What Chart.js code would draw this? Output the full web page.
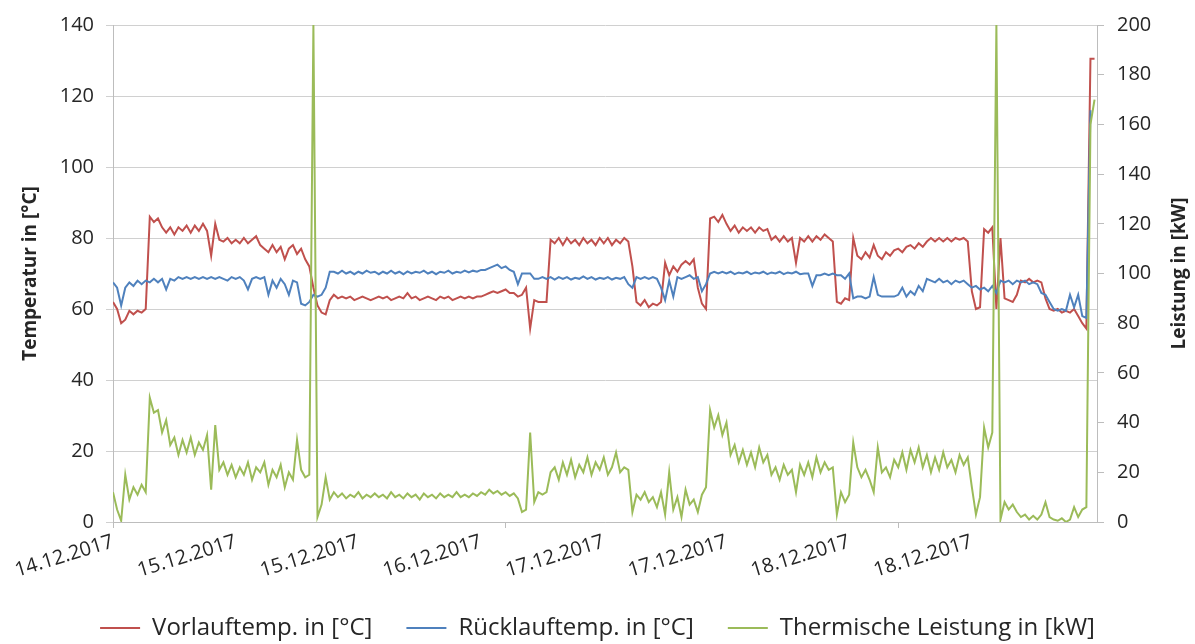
<!DOCTYPE html>
<html><head><meta charset="utf-8">
<script src="https://cdn.jsdelivr.net/npm/chart.js@4.4.0/dist/chart.umd.min.js"></script>
<style>html,body{margin:0;padding:0;background:#fff}#wrap{width:1195px;height:644px;position:relative}</style>
</head><body><div id="wrap"><canvas id="c"></canvas></div>
<script>
// x positions are half-hour steps from the start of the record
const dateLabels = ['14.12.2017','15.12.2017','15.12.2017','16.12.2017','17.12.2017','17.12.2017','18.12.2017','18.12.2017'];
const labelPositions = [0,30,60,90,120,150,180,210];
const tickMarkPositions = [0,96,192];
const xMax = 240.6;

const seriesNames = ['Vorlauftemp. in [°C]','Rücklauftemp. in [°C]','Thermische Leistung in [kW]'];
const leftAxisTitle = 'Temperatur in [°C]';
const rightAxisTitle = 'Leistung in [kW]';

// Vorlauftemperatur [°C]
const vorlauf = [
 62,60,56,57,59.5,58.5,59.5,59,60,86,
 84.5,85.5,83,81.5,83,81,83,82,83.5,81.5,
 83.5,82,84,82,75,84,79.5,79,80,78.5,
 79.5,78.5,80,78.5,79.5,80.5,78,77,76,78,
 76,77.5,74,77,78,75.5,77,74,72,66,
 61,59,58.5,62.5,64,63,63.5,63,63.5,62.5,
 63,63.5,63,62.5,63,63.5,63,63.5,62.5,63,
 63.5,63,64.5,63,63.5,62.5,63,63.5,63,62.5,
 63.5,63,63.5,62.5,63,63.5,63,63.5,63,63.5,
 63.5,64,64.5,65,64.5,65,65.5,64.5,64.5,63.5,
 64,66,54.5,62.5,62,62,62,79.5,78.5,80,
 78,80,78.5,79.5,78,80,78.5,79.5,78,80,
 78.5,80,78,79.5,78.5,80,79,72,62,61,
 62.5,60.5,61.5,61,62,73,69.5,72,70.5,72.5,
 73.5,72.5,74,66,61.5,60,85.5,86,84.5,86.5,
 84,82,83.5,81.5,83,82,83,81.5,83,82,
 82.5,79.5,80.5,79,80.5,79,80,73,80,79,
 80.5,79,80.5,79.5,81,80,79,62,61.5,63,
 62.5,80,75,74,76,74.5,78,75,74,76,
 75,76.5,77,76,77.5,78,77,78.5,77.5,79,
 80,79,80,79,80,79,80,79.5,80,79,
 65,60,60.5,82.5,81.5,83,60,80,63,62.5,
 62,64,68,67.5,68.5,67.5,68,67.5,63,60,
 59.5,60,59,59.5,59,60,58,56,54.5,130.5,
 130.5
];

// Rücklauftemperatur [°C]
const ruecklauf = [
 67.5,66,61,66,67.5,66.5,68,67,68,67.5,
 68.5,67.5,68.5,65.5,68.5,68,69,68.5,69,68.5,
 69,68.5,69,68.5,69,68.5,69,68.5,68,69,
 68.5,69,68,65.5,68.5,69,68.5,69,64,68,
 66,68.5,67,64,68,67.5,61.5,61,62,64,
 63.5,64,66,70.5,70.5,70,70.8,70,70.5,69.8,
 70.5,70,70.8,70.2,70.5,69.8,70.5,70,70.8,70,
 70.5,69.8,70.6,70,70.5,70.2,70.8,70,70.5,69.8,
 70.5,70.2,70.8,70,70.5,70.2,70.8,70.3,70.8,70.5,
 71,71,71.5,72,72.5,71.5,72,71,70.5,67,
 70,70,70,68.5,68.5,69,68.5,69,68.3,69,
 68.5,69,68.3,68.8,68.5,69.2,68.5,69,68.3,68.8,
 68.5,69,68.3,68.8,68.5,69,67,66,69,68.5,
 69,68.5,69,68.5,66,62.5,68,63.5,69,68.5,
 69,69.5,68.5,69,65,67,70,70.5,70,70.5,
 70,70.5,69.8,70.3,70,70.5,69.8,70.3,70,70.5,
 69.8,70.3,70,70.5,69.8,70.3,70,70.5,69.8,70,
 70,66.5,69.5,69.5,70,69.5,70,69.5,69.5,68.5,
 70,63,63.5,63.5,63,63.5,69,64,63.5,63.5,
 63.5,63.5,64,66,63.5,65,64,66.5,65,68.5,
 68,67.5,68.5,67.5,68,67,68,67.5,68,67,
 66,66.5,65.5,66,65,66.5,64.5,68,67.5,68,
 67,68,67.5,68,67,67.5,67,64.5,64,62,
 60,59.5,60,59.5,64,60.5,64,58,57.5,116,
 null
];

// Thermische Leistung [kW]
const leistung = [
 12,5,0.5,19,9,14,11,15,12,50,
 44,45,36,41,31,34,27,33,28,34,
 27,32,29,35,13,39,21,24,19,23,
 18,22,19,24,17,22,20,24,15,21,
 18,23,14,20,17,33,21,18,19,200,
 2,7,18,9,12,10,11.5,9.5,11,10,
 12,9.5,11,10,11.5,10,11,9.5,12,10,
 11,9.5,11.5,10,11,9,11.5,10,11,9.5,
 11.5,10,11,10,12,10,11,10,11.5,10.5,
 12,11,13,11.5,12.5,11,12,10.5,11.5,9.5,
 4,5,36,8,12,11,12,20,22,17,
 24,19,25,18,23,20,26,19,24,21,
 26,19,22,28,20,22,21,4,11,9,
 12,8,10,6,12,3,20,5,10,2,
 13,7,9,4,11,14,45,38,43,35,
 40,27,31,24,29,23,28,22,30,24,
 27,19,22,17,23,19,21,12,23,19,
 24,18,26,20,24,21,22,3,12,8,
 11,32,22,18,21,17,12,30,20,22,
 18,25,22,28,21,29,24,30,22,27,
 20,26,21,28,22,25,20,27,23,26,
 14,3,10,38,30,36,200,1,8,5,
 7,4,2,3,1,2.5,1,3,8,2,
 1,0.5,1.5,0,1,6,2,5,6,160,
 170
];

const toXY = arr => arr.map((v, i) => ({x: i, y: v}));
const FONT = "'Open Sans', sans-serif";
const GRID = '#d0d0d0';
const AXIS = '#bdbdbd';
const TXT = '#262626';

const rightTitlePlugin = {
  id: 'rightTitle',
  afterDraw(chart) {
    const ctx = chart.ctx, a = chart.chartArea;
    ctx.save();
    ctx.translate(1180, (a.top + a.bottom) / 2);
    ctx.rotate(-Math.PI / 2);
    ctx.font = 'bold 19px ' + FONT;
    ctx.fillStyle = TXT;
    ctx.textAlign = 'center';
    ctx.textBaseline = 'middle';
    ctx.fillText(rightAxisTitle, 0, 0);
    ctx.restore();
  }
};

new Chart(document.getElementById('c'), {
  type: 'line',
  data: {
    datasets: [
      {label: seriesNames[0], data: toXY(vorlauf), borderColor: '#C0504D', backgroundColor: '#C0504D', borderWidth: 2, yAxisID: 'y', order: 3},
      {label: seriesNames[1], data: toXY(ruecklauf), borderColor: '#4F81BD', backgroundColor: '#4F81BD', borderWidth: 2, yAxisID: 'y', order: 2},
      {label: seriesNames[2], data: toXY(leistung), borderColor: '#9BBB59', backgroundColor: '#9BBB59', borderWidth: 2, yAxisID: 'y2', order: 1}
    ]
  },
  options: {
    responsive: true,
    maintainAspectRatio: false,
    animation: false,
    elements: {line: {borderWidth: 2, tension: 0}, point: {radius: 0}},
    layout: {padding: {left: 0, right: 0, top: 20, bottom: 0}},
    plugins: {
      tooltip: {enabled: false},
      legend: {
        position: 'bottom',
        maxHeight: 62,
        labels: {
          usePointStyle: true, pointStyle: 'line', pointStyleWidth: 40,
          padding: 34, color: TXT, font: {family: FONT, size: 24},
          sort: (a, b) => a.datasetIndex - b.datasetIndex,
          generateLabels: chart => chart.data.datasets.map((ds, i) => ({
            text: ds.label, datasetIndex: i, fillStyle: ds.borderColor, strokeStyle: ds.borderColor,
            lineWidth: 2, pointStyle: 'line', hidden: false, fontColor: TXT
          }))
        }
      }
    },
    scales: {
      x: {
        type: 'linear', min: 0, max: xMax,
        afterBuildTicks: s => {
          const vals = [...new Set([...labelPositions, ...tickMarkPositions])].sort((a, b) => a - b);
          s.ticks = vals.map(v => ({value: v}));
        },
        afterFit: s => { s.height = 60; },
        ticks: {
          autoSkip: false, minRotation: 17, maxRotation: 17, padding: 2,
          color: TXT, font: {family: FONT, size: 20},
          callback: v => { const k = labelPositions.indexOf(v); return k >= 0 ? dateLabels[k] : ''; }
        },
        grid: {
          drawOnChartArea: false, tickLength: 6,
          tickColor: c => (c.tick && tickMarkPositions.includes(c.tick.value)) ? AXIS : 'rgba(0,0,0,0)'
        },
        border: {color: AXIS, width: 1}
      },
      y: {
        position: 'left', min: 0, max: 140,
        ticks: {stepSize: 20, padding: 12, color: TXT, font: {family: FONT, size: 20}},
        grid: {color: GRID, tickColor: GRID, tickLength: 7},
        border: {color: AXIS},
        afterFit: s => { s.width = 113; },
        title: {display: true, text: leftAxisTitle, color: TXT, font: {family: FONT, size: 19, weight: 'bold'}, padding: {top: 19, bottom: 0}}
      },
      y2: {
        position: 'right', min: 0, max: 200,
        ticks: {stepSize: 20, padding: 13, color: TXT, font: {family: FONT, size: 20}},
        grid: {drawOnChartArea: false, tickColor: AXIS, tickLength: 7},
        border: {color: AXIS},
        afterFit: s => { s.width = 98; }
      }
    }
  },
  plugins: [rightTitlePlugin]
});
</script>
</body></html>
